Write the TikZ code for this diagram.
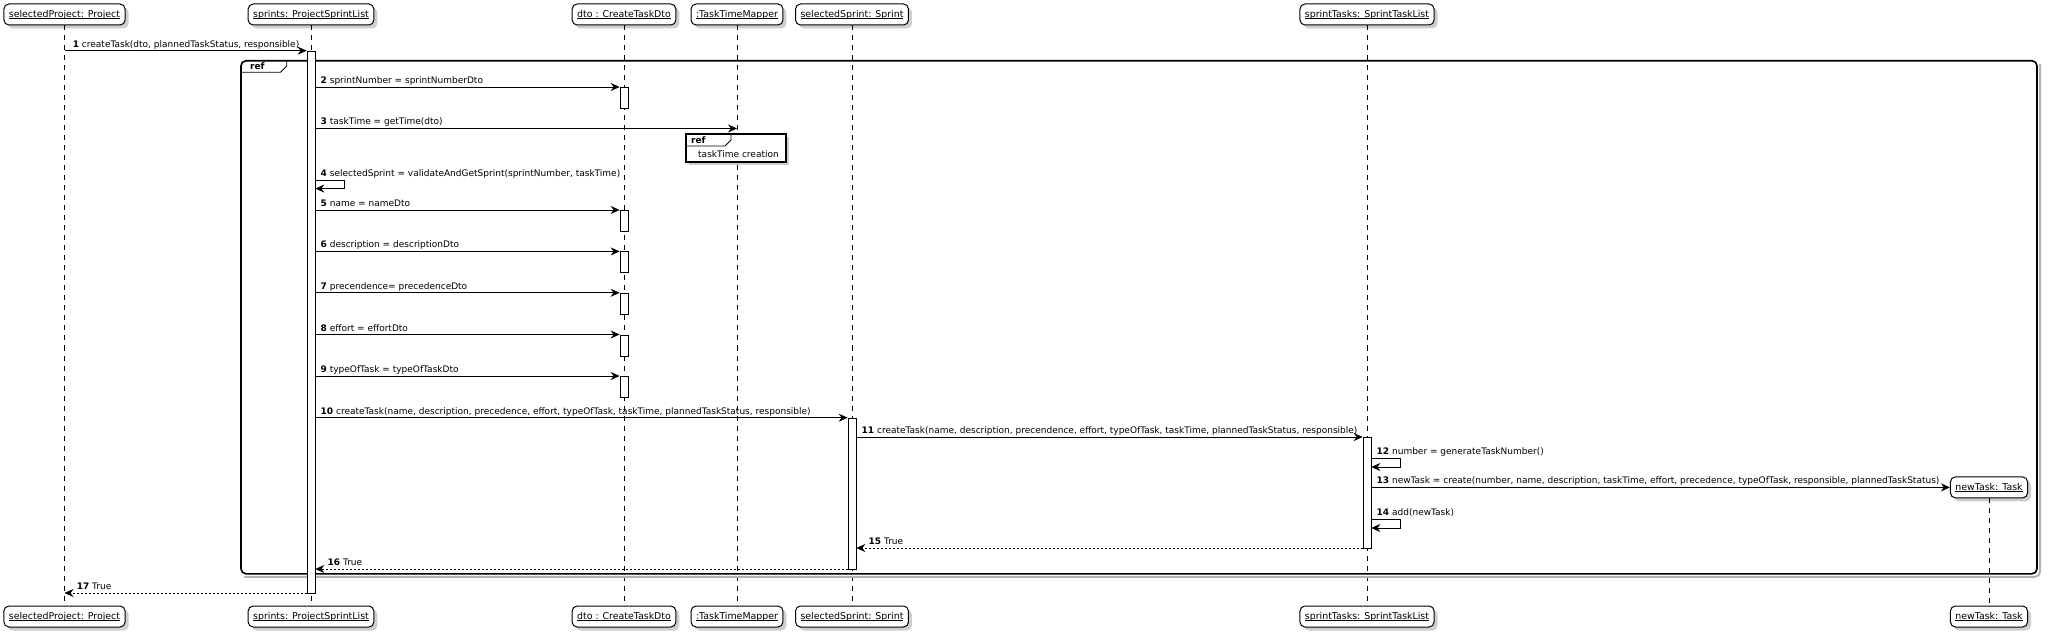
\documentclass[tikz,border=0pt]{standalone}
\usepackage{fontspec}
\setmainfont{DejaVu Sans}
\usetikzlibrary{arrows.meta,shadows}

% underline that sits just under the baseline, as in the boxes
\newcommand{\uname}[1]{\setbox0\hbox{#1}\rlap{\rule[-1.5pt]{\wd0}{0.55pt}}\box0}

\tikzset{
  actor/.style={draw, line width=1pt, rounded corners=5pt, fill=white,
    inner xsep=5pt, inner ysep=0pt, minimum height=21pt,
    font=\fontsize{9.4}{11}\selectfont,
    drop shadow={shadow xshift=3.5pt, shadow yshift=-3.5pt, fill=black!35, opacity=0.55}},
  life/.style={line width=0.5pt, dash pattern=on 5pt off 5pt},
  act/.style={draw, fill=white, line width=0.7pt, minimum width=8pt, inner sep=0pt, anchor=north},
  msg/.style={line width=0.7pt, -{Stealth[length=9pt, width=8pt, inset=3pt]}},
  ret/.style={msg, dash pattern=on 2pt off 2pt},
  lbl/.style={anchor=base west, inner sep=0pt, xshift=5pt, yshift=3.5pt, font=\fontsize{9}{11}\selectfont},
  rlbl/.style={anchor=base west, inner sep=0pt, xshift=12pt, yshift=3.5pt, font=\fontsize{9}{11}\selectfont},
  tag/.style={anchor=base west, inner sep=0pt, font=\bfseries\fontsize{9}{11}\selectfont},
}

\begin{document}
\begin{tikzpicture}[x=1pt, y=-1pt]
\useasboundingbox (0,0) rectangle (2048,636);

% participants, top row
\node[actor] (pProj) at (64.5,14.5) {\uname{selectedProject: Project}};
\node[actor] (pSprints) at (311,14.5) {\uname{sprints: ProjectSprintList}};
\node[actor] (pDto) at (624,14.5) {\uname{dto : CreateTaskDto}};
\node[actor] (pMapper) at (737,14.5) {\uname{:TaskTimeMapper}};
\node[actor] (pSprint) at (852,14.5) {\uname{selectedSprint: Sprint}};
\node[actor] (pTasks) at (1367,14.5) {\uname{sprintTasks: SprintTaskList}};
\node[actor] (pNew) at (1989,487.4) {\uname{newTask: Task}};

% participants, bottom row
\node[actor] (pProjB) at (64.5,616.5) {\uname{selectedProject: Project}};
\node[actor] (pSprintsB) at (311,616.5) {\uname{sprints: ProjectSprintList}};
\node[actor] (pDtoB) at (624,616.5) {\uname{dto : CreateTaskDto}};
\node[actor] (pMapperB) at (737,616.5) {\uname{:TaskTimeMapper}};
\node[actor] (pSprintB) at (852,616.5) {\uname{selectedSprint: Sprint}};
\node[actor] (pTasksB) at (1367,616.5) {\uname{sprintTasks: SprintTaskList}};
\node[actor] (pNewB) at (1989,616.5) {\uname{newTask: Task}};

% lifelines
\draw[life] (pProj.south) -- (pProjB.north);
\draw[life] (pSprints.south) -- (pSprintsB.north);
\draw[life] (pDto.south) -- (pDtoB.north);
\draw[life] (pMapper.south) -- (pMapperB.north);
\draw[life] (pSprint.south) -- (pSprintB.north);
\draw[life] (pTasks.south) -- (pTasksB.north);
\draw[life] (pNew.south) -- (pNewB.north);

% message rows
\coordinate (m1) at (0,50.7);
\coordinate (m2) at (0,87);
\coordinate (m3) at (0,128.5);
\coordinate (m4) at (0,180.5);
\coordinate (m4b) at (0,188.6);
\coordinate (m5) at (0,210);
\coordinate (m6) at (0,251.4);
\coordinate (m7) at (0,292.8);
\coordinate (m8) at (0,334.5);
\coordinate (m9) at (0,376);
\coordinate (m10) at (0,417.7);
\coordinate (m11) at (0,437);
\coordinate (m12) at (0,458);
\coordinate (m12b) at (0,467);
\coordinate (m13) at (0,487.4);
\coordinate (m14) at (0,519);
\coordinate (m14b) at (0,528);
\coordinate (m15) at (0,548);
\coordinate (m16) at (0,569);
\coordinate (m17) at (0,593);

% ref frame round the whole call
\draw[line width=2pt, black!30, rounded corners=5pt] (2040,64) -- (2040,576.8) -- (244,576.8);
\draw[line width=1.6pt, rounded corners=5pt] (241,60.8) rectangle (2037,573.8);
\draw[line width=0.8pt] (241,72.2) -- (280.5,72.2) -- (286.7,66) -- (286.7,60.8);
\node[tag] (fTag) at (250,70) {ref};

% ref box for the task time
\draw[line width=1.3pt, fill=white, drop shadow={shadow xshift=3pt, shadow yshift=-3pt, fill=black!35, opacity=0.55}] (686,134) rectangle (786,162);
\draw[line width=0.8pt] (686,146) -- (725,146) -- (731,140) -- (731,134);
\node[tag] (rTag) at (691,143.5) {ref};
\node[anchor=base west, inner sep=0pt, font=\fontsize{9}{11}\selectfont] (rText) at (698,157.5) {taskTime creation};

% activations
\node[act, minimum height=542.3pt] (actS) at (pSprints |- m1) {};
\node[act, minimum height=21pt] (actD2) at (pDto |- m2) {};
\node[act, minimum height=21pt] (actD5) at (pDto |- m5) {};
\node[act, minimum height=21pt] (actD6) at (pDto |- m6) {};
\node[act, minimum height=21pt] (actD7) at (pDto |- m7) {};
\node[act, minimum height=21pt] (actD8) at (pDto |- m8) {};
\node[act, minimum height=21pt] (actD9) at (pDto |- m9) {};
\node[act, minimum height=151.3pt] (actSp) at (pSprint |- m10) {};
\node[act, minimum height=111pt] (actT) at (pTasks |- m11) {};

% messages
\draw[msg] (pProj |- m1) -- node[lbl, pos=0, xshift=3pt] (l1) {\textbf{1} createTask(dto, plannedTaskStatus, responsible)} (actS.west |- m1);
\draw[msg] (actS.east |- m2) -- node[lbl, pos=0] (l2) {\textbf{2} sprintNumber = sprintNumberDto} (actD2.north west);
\draw[msg] (actS.east |- m3) -- node[lbl, pos=0] (l3) {\textbf{3} taskTime = getTime(dto)} (pMapper |- m3);
\draw[msg] (actS.east |- m4) node[lbl] (l4) {\textbf{4} selectedSprint = validateAndGetSprint(sprintNumber, taskTime)} -- ++(29,0) |- (actS.east |- m4b);
\draw[msg] (actS.east |- m5) -- node[lbl, pos=0] (l5) {\textbf{5} name = nameDto} (actD5.north west);
\draw[msg] (actS.east |- m6) -- node[lbl, pos=0] (l6) {\textbf{6} description = descriptionDto} (actD6.north west);
\draw[msg] (actS.east |- m7) -- node[lbl, pos=0] (l7) {\textbf{7} precendence= precedenceDto} (actD7.north west);
\draw[msg] (actS.east |- m8) -- node[lbl, pos=0] (l8) {\textbf{8} effort = effortDto} (actD8.north west);
\draw[msg] (actS.east |- m9) -- node[lbl, pos=0] (l9) {\textbf{9} typeOfTask = typeOfTaskDto} (actD9.north west);
\draw[msg] (actS.east |- m10) -- node[lbl, pos=0] (l10) {\textbf{10} createTask(name, description, precedence, effort, typeOfTask, taskTime, plannedTaskStatus, responsible)} (actSp.north west);
\draw[msg] (actSp.east |- m11) -- node[lbl, pos=0] (l11) {\textbf{11} createTask(name, description, precendence, effort, typeOfTask, taskTime, plannedTaskStatus, responsible)} (actT.north west);
\draw[msg] (actT.east |- m12) node[lbl] (l12) {\textbf{12} number = generateTaskNumber()} -- ++(29,0) |- (actT.east |- m12b);
\draw[msg] (actT.east |- m13) -- node[lbl, pos=0] (l13) {\textbf{13} newTask = create(number, name, description, taskTime, effort, precedence, typeOfTask, responsible, plannedTaskStatus)} (pNew.west);
\draw[msg] (actT.east |- m14) node[lbl] (l14) {\textbf{14} add(newTask)} -- ++(29,0) |- (actT.east |- m14b);
\draw[ret] (actT.west |- m15) -- node[rlbl, pos=1] (l15) {\textbf{15} True} (actSp.east |- m15);
\draw[ret] (actSp.west |- m16) -- node[rlbl, pos=1] (l16) {\textbf{16} True} (actS.east |- m16);
\draw[ret] (actS.west |- m17) -- node[rlbl, pos=1] (l17) {\textbf{17} True} (pProj |- m17);
\end{tikzpicture}
\end{document}
